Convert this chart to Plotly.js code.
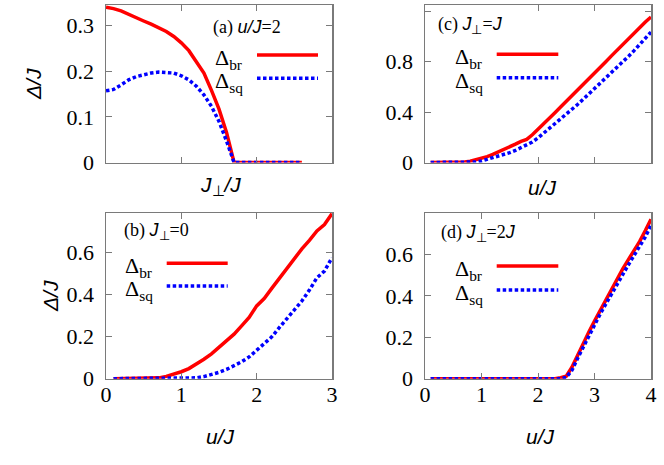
<!DOCTYPE html>
<html><head><meta charset="utf-8">
<script src="https://cdn.plot.ly/plotly-3.0.1.min.js"></script>
<style>html,body{margin:0;padding:0;background:#fff}</style>
</head><body><div id="chart" style="width:664px;height:465px"></div>
<script>
// (a) u/J = 2, x = J_perp/J
const xA = [0,0.1,0.2,0.3,0.4,0.5,0.6,0.7,0.8,0.9,1.0,1.1,1.2,1.3,1.4,1.5,1.6,1.7,1.8,1.9,2.0,2.1,2.2,2.3,2.4,2.5,2.6];
const brA = [0.340,0.337,0.332,0.324,0.316,0.310,0.303,0.295,0.287,0.276,0.262,0.245,0.222,0.196,0.158,0.117,0.066,0,0,0,0,0,0,0,0,0,0];
const sqA = [0.157,0.160,0.170,0.181,0.188,0.193,0.196,0.198,0.197,0.196,0.190,0.181,0.167,0.148,0.123,0.090,0.047,0,0,0,0,0,0,0,0,0,0];
// (c) J_perp = J, x = u/J
const xC = [0.1,0.2,0.3,0.4,0.5,0.6,0.7,0.8,0.9,1.0,1.1,1.2,1.3,1.4,1.5,1.6,1.7,1.8,1.9,2.0,2.1,2.2,2.3,2.4,2.5,2.6,2.7,2.8,2.9,3.0,3.1,3.2,3.3,3.4,3.5,3.6,3.7,3.8,3.9,4.0];
const brC = [0,0,0,0,0,0,0.004,0.010,0.020,0.033,0.047,0.064,0.083,0.102,0.123,0.146,0.168,0.183,0.220,0.262,0.305,0.350,0.395,0.440,0.484,0.529,0.574,0.620,0.665,0.710,0.755,0.800,0.846,0.892,0.937,0.982,1.028,1.072,1.115,1.155];
const sqC = [0,0,0,0,0,0,0,0,0.004,0.012,0.025,0.037,0.049,0.061,0.078,0.096,0.116,0.136,0.163,0.195,0.232,0.268,0.304,0.342,0.380,0.420,0.460,0.502,0.544,0.585,0.625,0.666,0.709,0.752,0.797,0.842,0.888,0.935,0.985,1.035];
// (b) J_perp = 0
const xB = [0.1,0.2,0.3,0.4,0.5,0.6,0.7,0.8,0.9,1.0,1.1,1.2,1.3,1.4,1.5,1.6,1.7,1.8,1.9,2.0,2.1,2.2,2.3,2.4,2.5,2.6,2.7,2.8,2.9,3.0];
const brB = [0,0,0,0,0,0,0.004,0.011,0.020,0.033,0.048,0.068,0.092,0.118,0.148,0.178,0.211,0.250,0.290,0.345,0.380,0.428,0.476,0.520,0.570,0.615,0.655,0.700,0.730,0.782];
const sqB = [0,0,0,0,0,0,0,0,0,0,0,0.004,0.010,0.019,0.030,0.044,0.060,0.080,0.103,0.135,0.165,0.198,0.242,0.283,0.325,0.368,0.420,0.478,0.510,0.573];
// (d) J_perp = 2J
const xD = [0.1,0.2,0.3,0.4,0.5,0.6,0.7,0.8,0.9,1.0,1.1,1.2,1.3,1.4,1.5,1.6,1.7,1.8,1.9,2.0,2.1,2.2,2.3,2.4,2.5,2.6,2.7,2.8,2.9,3.0,3.1,3.2,3.3,3.4,3.5,3.6,3.7,3.8,3.9,4.0];
const brD = [0,0,0,0,0,0,0,0,0,0,0,0,0,0,0,0,0,0,0,0,0,0,0,0.005,0.012,0.055,0.115,0.170,0.225,0.278,0.330,0.375,0.425,0.477,0.530,0.575,0.618,0.663,0.715,0.770];
const sqD = [0,0,0,0,0,0,0,0,0,0,0,0,0,0,0,0,0,0,0,0,0,0,0,0,0.006,0.040,0.098,0.153,0.210,0.262,0.312,0.360,0.408,0.460,0.510,0.550,0.595,0.640,0.685,0.740];

const names = ['Δ<sub>br</sub>', 'Δ<sub>sq</sub>'];
const RED = '#ff0000', BLUE = '#0000ff';
const W = 664, H = 465;
const px = v => v / W, py = v => 1 - v / H;

function pair(x, br, sq, xa, ya) {
  return [
    {x: x, y: br, xaxis: xa, yaxis: ya, type: 'scatter', mode: 'lines', name: names[0], showlegend: false,
     line: {color: RED, width: 3.5}},
    {x: x, y: sq, xaxis: xa, yaxis: ya, type: 'scatter', mode: 'lines', name: names[1], showlegend: false,
     line: {color: BLUE, width: 3.5, dash: '3.5px,2.5px'}}
  ];
}
const data = [].concat(
  pair(xA, brA, sqA, 'x', 'y'),
  pair(xC, brC, sqC, 'x2', 'y2'),
  pair(xB, brB, sqB, 'x3', 'y3'),
  pair(xD, brD, sqD, 'x4', 'y4')
);

const serif = 'Liberation Serif';
const sans = 'Liberation Sans';
const tickFont = {family: serif, size: 22, color: '#000'};
function axisBase(extra) {
  return Object.assign({
    showgrid: false, zeroline: false, showline: true, linecolor: '#7a7a7a', linewidth: 1.5,
    mirror: 'allticks', ticks: 'inside', ticklen: 6, tickwidth: 1, tickcolor: '#7a7a7a',
    tickfont: tickFont, fixedrange: true
  }, extra);
}
const XL = [px(106), px(332)], XR = [px(425), px(651)];
const YT = [py(162.5), py(5)], YB = [py(378.7), py(213)];

function ann(text, x, y, opts) {
  return Object.assign({text: text, x: px(x), y: py(y), xref: 'paper', yref: 'paper', showarrow: false,
    xanchor: 'center', yanchor: 'middle', font: {family: sans, size: 21, color: '#000'}}, opts || {});
}
const sp = "<span style=\"font-family:'Liberation Sans'\">";
const lab = {family: serif, size: 18, color: '#000'};
const annotations = [
  // axis titles
  ann('<i>J</i><sub>⊥</sub><i>/J</i>', 220, 186),
  ann('<i>u/J</i>', 542, 187.5),
  ann('<i>u/J</i>', 220, 436.5),
  ann('<i>u/J</i>', 540, 436.5),
  ann('<i>Δ/J</i>', 33, 84, {textangle: -90}),
  ann('<i>Δ/J</i>', 50, 296, {textangle: -90}),
  // panel labels
  ann('(a) ' + sp + '<i>u/J</i></span>=2', 211, 27, {xanchor: 'left', font: lab}),
  ann('(c) ' + sp + '<i>J</i><sub>⊥</sub></span>=' + sp + '<i>J</i></span>', 436, 26, {xanchor: 'left', font: lab}),
  ann('(b) ' + sp + '<i>J</i><sub>⊥</sub></span>=0', 121.7, 231, {xanchor: 'left', font: lab}),
  ann('(d) ' + sp + '<i>J</i><sub>⊥</sub></span>=2' + sp + '<i>J</i></span>', 439.3, 234, {xanchor: 'left', font: lab})
];
const legendPos = [
  // textX, lineX0, lineX1, yBr, ySq
  [213, 257, 318, 55, 78.3],
  [453, 496.7, 558.3, 54.3, 77.7],
  [122.7, 166.7, 227.7, 263.3, 286],
  [453.3, 496.7, 558.3, 266, 290]
];
const shapes = [];
legendPos.forEach(p => {
  annotations.push(ann(names[0], p[0], p[3] + 4, {xanchor: 'left', font: {family: serif, size: 22, color: '#000'}}));
  annotations.push(ann(names[1], p[0], p[4] + 4, {xanchor: 'left', font: {family: serif, size: 22, color: '#000'}}));
  shapes.push({type: 'line', xref: 'paper', yref: 'paper', x0: px(p[1]), x1: px(p[2]), y0: py(p[3]), y1: py(p[3]),
    line: {color: RED, width: 3.5}});
  shapes.push({type: 'line', xref: 'paper', yref: 'paper', x0: px(p[1]), x1: px(p[2]), y0: py(p[4]), y1: py(p[4]),
    line: {color: BLUE, width: 3.5, dash: '3.5px,2.5px'}});
});

const layout = {
  width: W, height: H, margin: {l: 0, r: 0, t: 0, b: 0},
  font: {family: serif, size: 22, color: '#000'},
  paper_bgcolor: '#fff', plot_bgcolor: '#fff', showlegend: false,
  xaxis:  axisBase({domain: XL, anchor: 'y',  range: [0, 3], tickvals: [1, 2], showticklabels: false}),
  yaxis:  axisBase({domain: YT, anchor: 'x',  range: [0, 0.345], tickvals: [0, 0.1, 0.2, 0.3], ticklabelstandoff: 6}),
  xaxis2: axisBase({domain: XR, anchor: 'y2', range: [0, 4], tickvals: [2, 3], showticklabels: false}),
  yaxis2: axisBase({domain: YT, anchor: 'x2', range: [0, 1.25], tickvals: [0, 0.4, 0.8, 1.2], ticklabelstandoff: 6}),
  xaxis3: axisBase({domain: XL, anchor: 'y3', range: [0, 3], tickvals: [0, 1, 2, 3], ticklabelstandoff: -5}),
  yaxis3: axisBase({domain: YB, anchor: 'x3', range: [0, 0.785], tickvals: [0, 0.2, 0.4, 0.6], ticklabelstandoff: 6}),
  xaxis4: axisBase({domain: XR, anchor: 'y4', range: [0, 4], tickvals: [0, 1, 2, 3, 4], ticklabelstandoff: -5}),
  yaxis4: axisBase({domain: YB, anchor: 'x4', range: [0, 0.8], tickvals: [0, 0.2, 0.4, 0.6], ticklabelstandoff: 6}),
  annotations: annotations,
  shapes: shapes
};
Plotly.newPlot('chart', data, layout, {staticPlot: true, displayModeBar: false});
</script></body></html>
